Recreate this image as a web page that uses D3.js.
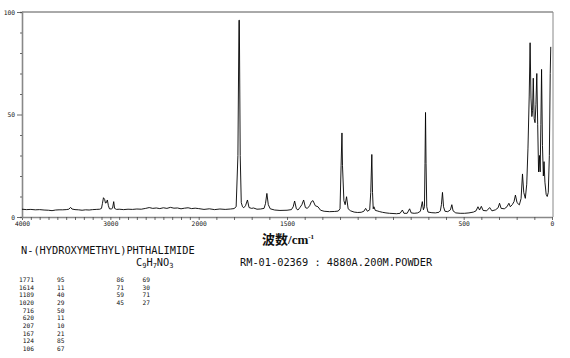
<!DOCTYPE html>
<html>
<head>
<meta charset="utf-8">
<script src="https://cdn.jsdelivr.net/npm/d3@7"></script>
<style>
  body { margin: 0; background: #fff; }
  svg text { fill: #111; }
</style>
</head>
<body>
<svg id="chart" width="570" height="358"></svg>
<script>
// spectrum: [wavenumber cm-1, intensity]
let spectrum = [
  [4000, 3.8], [3950, 3.6], [3900, 3.7], [3850, 3.5], [3800, 3.6], [3750, 3.4],
  [3700, 3.3], [3660, 3.1], [3620, 3.4], [3580, 3.5], [3540, 3.5], [3500, 3.6],
  [3470, 3.8], [3450, 4.7], [3435, 3.9], [3400, 3.6], [3360, 3.5], [3320, 3.3],
  [3280, 3.5], [3240, 3.4], [3200, 3.6], [3160, 3.7], [3120, 3.8], [3100, 4.2],
  [3090, 6.5], [3078, 9.4], [3065, 8.6], [3055, 6.8], [3045, 7.0], [3034, 8.3],
  [3022, 5.5], [3010, 4.0], [2990, 3.9], [2975, 4.3], [2962, 7.5], [2952, 4.2],
  [2930, 3.7], [2900, 3.8], [2850, 3.6], [2800, 3.8], [2750, 3.7], [2700, 3.9],
  [2650, 3.8], [2600, 4.2], [2560, 4.6], [2520, 4.2], [2480, 4.4], [2440, 4.1],
  [2400, 4.5], [2360, 4.2], [2320, 4.7], [2280, 4.3], [2240, 4.4], [2200, 4.0],
  [2160, 4.3], [2120, 4.5], [2080, 4.1], [2040, 4.3], [2000, 4.1],
  [1970, 3.7], [1940, 4.0], [1910, 3.6], [1880, 3.9], [1850, 3.7], [1820, 3.9],
  [1800, 4.1], [1788, 5], [1778, 30], [1772, 96], [1770, 96], [1765, 30],
  [1759, 7], [1752, 5], [1745, 4.5], [1735, 5.5], [1724, 8.3], [1715, 4.6],
  [1700, 4.2], [1690, 4.4], [1670, 3.8], [1650, 3.9], [1630, 4.2], [1622, 6.5],
  [1614, 11.5], [1606, 6.0], [1595, 4.0], [1570, 3.4], [1540, 3.2], [1500, 3.3],
  [1475, 3.6], [1465, 5], [1457, 7.8], [1447, 4.0], [1438, 3.4], [1428, 4.5],
  [1416, 6], [1406, 8.3], [1396, 4.6], [1385, 4.2], [1372, 5.5], [1362, 7.5],
  [1353, 8.0], [1340, 5.5], [1325, 5.0], [1310, 3.3], [1290, 2.8], [1260, 2.6],
  [1230, 2.7], [1210, 2.9], [1200, 4], [1194, 25], [1189, 41], [1186, 25],
  [1178, 8], [1171, 6], [1163, 9.9], [1154, 4], [1140, 3.0], [1120, 2.4],
  [1100, 2.2], [1080, 2.3], [1065, 2.8], [1055, 4.2], [1045, 2.8], [1032, 3.5],
  [1026, 12], [1020, 30.5], [1016, 12], [1012, 4], [1008, 5], [1000, 3.2],
  [990, 3], [975, 2.6], [960, 2.3], [940, 2.0], [920, 1.8], [900, 1.7],
  [880, 1.6], [860, 1.8], [847, 3.4], [838, 1.8], [820, 1.8], [806, 4],
  [797, 2], [780, 1.8], [760, 2], [745, 2.8], [734, 7.5], [728, 3.5],
  [722, 5], [719, 26], [716, 51], [713, 26], [709, 5], [702, 2.4],
  [680, 2.1], [660, 2.0], [640, 2.3], [632, 3], [626, 6], [620, 12],
  [614, 5], [606, 2.8], [590, 2.6], [575, 3.5], [567, 6], [560, 3],
  [545, 2.0], [520, 1.8], [495, 1.8], [470, 2.0], [445, 2.4], [430, 3],
  [419, 5], [410, 3.4], [400, 5.2], [390, 3.2], [370, 3.0], [353, 4.6],
  [340, 3.0], [320, 3.5], [305, 4.5], [297, 6.7], [288, 4.2], [270, 4.0],
  [255, 5], [244, 6.7], [236, 5.0], [225, 6.0], [215, 7.5], [207, 10.7],
  [198, 7], [185, 5.9], [175, 9], [167, 21], [160, 12], [151, 9.1],
  [143, 16], [136, 33.6], [129, 59], [124, 85], [119, 58], [114, 49],
  [110, 52], [106, 67.7], [101, 48], [96, 46], [91, 55], [86, 70],
  [81, 45], [76, 22], [71, 30], [67, 22], [63, 45], [59, 72],
  [54, 35], [49, 20], [45, 27], [40, 17], [33, 11], [27, 10],
  [21, 12], [15, 30], [10, 70], [7, 83]
];

// peak table
let peakWn = [1771, 1614, 1189, 1020, 716, 620, 207, 167, 124, 106, 86, 71, 59, 45];
let peakInt = [95, 11, 40, 29, 50, 11, 10, 21, 85, 67, 69, 30, 71, 27];

let xTickLabels = [4000, 3000, 2000, 1500, 500, 0];
let yTickLabels = [0, 50, 100];

let svg = d3.select("#chart");

// 4000-2000 is drawn at half the scale of 2000-0
let x = d3.scaleLinear().domain([4000, 2000, 0]).range([22, 198.7, 552]);
let y = d3.scaleLinear().domain([0, 100]).range([217, 12]);

// frame top / right
svg.append("line").attr("x1", 22).attr("x2", 553).attr("y1", 12).attr("y2", 12)
  .attr("stroke", "#555").attr("stroke-width", 1);
svg.append("line").attr("x1", 553).attr("x2", 553).attr("y1", 12).attr("y2", 217)
  .attr("stroke", "#888").attr("stroke-width", 1);

let xTicks = d3.range(4000, -1, -100);
let xAxis = svg.append("g")
  .attr("transform", "translate(0,217)")
  .call(d3.axisBottom(x).tickValues(xTicks).tickSize(3).tickSizeOuter(0)
    .tickFormat((d) => (xTickLabels.includes(d) ? d : "")));

let yTicks = d3.range(0, 101, 10);
let yAxis = svg.append("g")
  .attr("transform", "translate(22,0)")
  .call(d3.axisLeft(y).tickValues(yTicks).tickSizeOuter(0)
    .tickSize(2).tickFormat((d) => (yTickLabels.includes(d) ? d : "")));

yAxis.selectAll(".tick line")
  .attr("x2", (d) => (yTickLabels.includes(d) ? -5 : -2));
yAxis.selectAll(".tick text").attr("x", -7);
xAxis.selectAll(".tick text").attr("y", 5);

svg.selectAll(".domain").attr("stroke", "#888").attr("stroke-width", 1.6);
svg.selectAll(".tick line").attr("stroke", "#444").attr("stroke-width", 0.8);
svg.selectAll(".tick text")
  .attr("font-family", "DejaVu Sans Mono")
  .attr("font-size", 6.3)
  .attr("fill", "#222");

// spectrum
let line = d3.line()
  .x((d) => x(d[0]))
  .y((d) => y(d[1]));

svg.append("path")
  .datum(spectrum)
  .attr("d", line)
  .attr("fill", "none")
  .attr("stroke", "#000")
  .attr("stroke-width", 0.9)
  .attr("stroke-linejoin", "round");

// axis title
let title = svg.append("text")
  .attr("x", 262).attr("y", 244)
  .attr("font-size", 13).attr("font-weight", "bold");
title.append("tspan").attr("font-family", "Noto Sans CJK SC").text("波数");
title.append("tspan").attr("font-family", "Liberation Serif").text("/cm");
title.append("tspan").attr("font-family", "Liberation Serif")
  .attr("font-size", 7).attr("dy", -5).text("-1");

let mono = "DejaVu Sans Mono";

svg.append("text")
  .attr("x", 21).attr("y", 253.5)
  .attr("font-family", mono).attr("font-size", 10.3)
  .text("N-(HYDROXYMETHYL)PHTHALIMIDE");

let formula = svg.append("text")
  .attr("x", 136).attr("y", 265.5)
  .attr("font-family", mono).attr("font-size", 10.3);
[["C", 0], ["9", 1], ["H", 0], ["7", 1], ["NO", 0], ["3", 1]].forEach((p, i) => {
  formula.append("tspan")
    .attr("font-size", p[1] ? 7 : 10.3)
    .attr("dy", i === 0 ? 0 : p[1] ? 2 : -2)
    .text(p[0]);
});

svg.append("text")
  .attr("x", 240).attr("y", 265.5)
  .attr("font-family", mono).attr("font-size", 10.3)
  .text("RM-01-02369 : 4880A.200M.POWDER");

// peak table, 10 rows per column pair
let table = svg.append("g")
  .attr("font-family", mono).attr("font-size", 6.2).attr("text-anchor", "end");

peakWn.forEach((wn, i) => {
  let col = Math.floor(i / 10);
  let row = i % 10;
  let rowY = 282 + row * 7.65;
  table.append("text").attr("x", col ? 124 : 34).attr("y", rowY).text(wn);
  table.append("text").attr("x", col ? 150 : 64.5).attr("y", rowY).text(peakInt[i]);
});
</script>
</body>
</html>
